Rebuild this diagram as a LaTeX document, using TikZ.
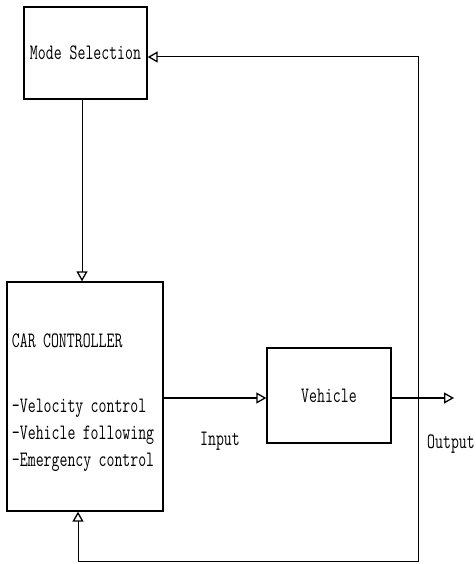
\documentclass[tikz,border=0pt]{standalone}
\usepackage{fontspec}
\usepackage{tikz}
\usetikzlibrary{arrows.meta,positioning,calc}
\newfontfamily\diagfont[FakeStretch=0.7]{Latin Modern Mono}

\begin{document}
\begin{tikzpicture}[
    x=1pt, y=-1pt,
    block/.style={rectangle, draw, line width=1.3pt, inner sep=0pt,
                  font=\diagfont\fontsize{22}{27}\selectfont},
    lbl/.style  ={font=\diagfont\fontsize{22}{27}\selectfont, inner sep=0pt},
    arr/.style  ={-{Triangle[open, length=10pt, width=11pt, line width=1.3pt]}, line width=1pt},
    fbarr/.style={-{Triangle[open, length=10pt, width=11pt, line width=1.3pt]}, line width=1pt}
]
\useasboundingbox (0,0) rectangle (475,564);

\node[block, minimum width=123pt, minimum height=92pt] (mode) at (85.5,53) {Mode Selection};
\node[block, minimum width=156pt, minimum height=229pt, text width=146pt,
      align=left] (ctrl) at (85,396.5)
      {\rule{0pt}{26pt}CAR CONTROLLER\\[38pt]-Velocity control\\-Vehicle following\\-Emergency control};
\node[block, minimum width=124pt, minimum height=95pt] (veh) at (329,395.5) {Vehicle};

\node[lbl] (in)  at (220,441) {Input};
\node[lbl] (out) at (451,444) {Output};

\coordinate (yout) at (454,398);
\coordinate (tap)  at (418,398);
\coordinate (bot)  at (418,561);

\draw[arr] ([xshift=-3.5pt]mode.south) -- ([xshift=-3.5pt]mode.south |- ctrl.north);
\draw[arr, line width=2pt] (ctrl.east |- yout) -- (veh.west |- yout);
\draw[arr, line width=2pt] (veh.east |- yout) -- (yout);
\draw[fbarr] (tap) |- ([yshift=-4pt]mode.east);
\draw[fbarr] (tap) -- (bot) -| ($(ctrl.south)+(-7,0)$);
\end{tikzpicture}
\end{document}
